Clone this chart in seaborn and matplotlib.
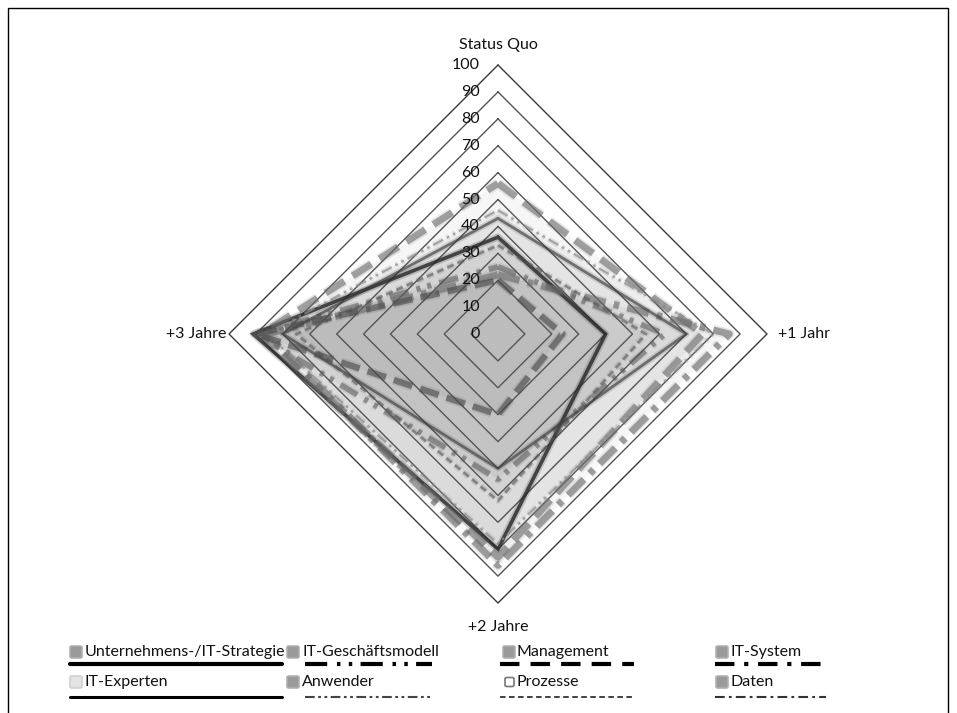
import numpy as np
import pandas as pd
import matplotlib
matplotlib.use("Agg")
import matplotlib.pyplot as plt
import seaborn as sns
from matplotlib.lines import Line2D
from matplotlib.patches import FancyBboxPatch

# ---------------- data ----------------
categories = ["Status Quo", "+1 Jahr", "+2 Jahre", "+3 Jahre"]
series_names = ["Unternehmens-/IT-Strategie", "IT-Geschäftsmodell", "Management", "IT-System",
                "IT-Experten", "Anwender", "Prozesse", "Daten"]
unternehmens_it_strategie = [36, 40, 80, 91]
it_geschaeftsmodell = [25, 62, 54, 90]
management = [56, 76, 83, 88]
it_system = [22, 86, 86, 86]
it_experten = [43, 70, 50, 80]
anwender = [46, 80, 78, 86]
prozesse = [33, 55, 62, 75]
daten = [20, 24, 30, 90]
tick_values = [0, 10, 20, 30, 40, 50, 60, 70, 80, 90, 100]

series_values = [unternehmens_it_strategie, it_geschaeftsmodell, management, it_system,
                 it_experten, anwender, prozesse, daten]

# ---------------- style ----------------
sns.set_theme(style="white")
plt.rcParams["font.family"] = ["Lato", "DejaVu Sans"]
plt.rcParams["lines.scale_dashes"] = False

W, H = 957, 713
fig = plt.figure(figsize=(W / 100, H / 100), dpi=100)
ax = fig.add_axes([0, 0, 1, 1])
cx, cy, R = 498, 334, 269
s = 100 / R
ax.set_xlim(-cx * s, (W - cx) * s)
ax.set_ylim(-(H - cy) * s, cy * s)
ax.axis("off")

angles = np.deg2rad([90, 0, -90, 180])

def fx(px):
    return px / W

def fy(py):
    return 1 - py / H

# chart line styles (colour, width, alpha, dash)
chart_styles = [
    ("#262626", 2.6, 0.80, "-"),
    ("#5a5a5a", 4.0, 0.55, (0, (14, 6, 3, 5, 3, 6))),
    ("#6e6e6e", 5.0, 0.60, (0, (16, 7))),
    ("#6a6a6a", 5.0, 0.60, (0, (16, 6, 4, 6))),
    ("#3c3c3c", 2.0, 0.65, "-"),
    ("#8c8c8c", 1.6, 0.70, (0, (8, 3, 2, 3, 2, 3))),
    ("#5a5a5a", 2.0, 0.60, (0, (5, 3))),
    ("#4a4a4a", 4.5, 0.60, (0, (14, 6))),
]

# grid rings
for v in tick_values[1:]:
    gx = np.append(v * np.cos(angles), v * np.cos(angles[0]))
    gy = np.append(v * np.sin(angles), v * np.sin(angles[0]))
    ax.plot(gx, gy, color="#3a3a3a" if v == 100 else "#555555", lw=1.0, zorder=2)

# series
for name, vals, (col, lw, al, ls) in zip(series_names, series_values, chart_styles):
    vals = np.array(vals, dtype=float)
    x = vals * np.cos(angles)
    y = vals * np.sin(angles)
    ax.fill(x, y, color="black", alpha=0.036, lw=0, zorder=1)
    df = pd.DataFrame({"x": np.append(x, x[0]), "y": np.append(y, y[0]),
                       "order": range(len(x) + 1)})
    sns.lineplot(data=df, x="x", y="y", sort=False, estimator=None, ax=ax,
                 color=col, lw=lw + 2.5, alpha=al * 0.25, linestyle=ls, legend=False,
                 zorder=3, solid_joinstyle="round")
    sns.lineplot(data=df, x="x", y="y", sort=False, estimator=None, ax=ax,
                 color=col, lw=lw, alpha=al, linestyle=ls, legend=False, zorder=4,
                 solid_joinstyle="miter")
ax.set_xlabel("")
ax.set_ylabel("")
ax.set_xlim(-cx * s, (W - cx) * s)
ax.set_ylim(-(H - cy) * s, cy * s)

# value tick labels
for v in tick_values:
    ax.text((480 - cx) * s, v, str(v), ha="right", va="center", fontsize=11.5,
            color="#111111", zorder=6)

# category labels
ax.text(0, (cy - 45) * s, categories[0], ha="center", va="center", fontsize=11.5, color="#111111")
ax.text((778 - cx) * s, 0, categories[1], ha="left", va="center", fontsize=11.5, color="#111111")
ax.text(0, -(627 - cy) * s, categories[2], ha="center", va="center", fontsize=11.5, color="#111111")
ax.text((226 - cx) * s, 0, categories[3], ha="right", va="center", fontsize=11.5, color="#111111")

# ---------------- legend (manual layout) ----------------
legend_styles = [
    ("black", 3.0, "-"),
    ("black", 3.0, (0, (16, 7, 2.5, 6, 2.5, 6))),
    ("black", 3.0, (0, (14, 8))),
    ("black", 3.0, (0, (14, 7, 3, 7))),
    ("black", 2.2, "-"),
    ("#444444", 1.5, (0, (7, 2.5, 2, 2.5, 2, 2.5))),
    ("#333333", 1.3, (0, (4, 2.5))),
    ("#333333", 1.5, (0, (7, 3, 2, 3))),
]
icon_faces = ["#9a9a9a", "#9a9a9a", "#9a9a9a", "#9a9a9a", "#e4e4e4", "#9a9a9a", "white", "#9a9a9a"]
icon_edges = ["#b0b0b0", "#b0b0b0", "#b0b0b0", "#b0b0b0", "#d0d0d0", "#b0b0b0", "#777777", "#b0b0b0"]
col_icon_x = [70, 287, 503, 716]
col_text_x = [85, 302, 517, 730]
col_line = [(70, 282), (305, 432), (500, 634), (715, 826)]
row_text_y = [652, 682]
row_line_y = [664, 697]

for i, name in enumerate(series_names):
    r, c = divmod(i, 4)
    ty = row_text_y[r]
    isz = 12 if i != 6 else 9
    ix = col_icon_x[c] + (0 if i != 6 else 2)
    fig.patches.append(FancyBboxPatch((fx(ix), fy(ty + isz / 2)), isz / W, isz / H,
                                      boxstyle="round,pad=0,rounding_size=0.002",
                                      transform=fig.transFigure, facecolor=icon_faces[i],
                                      edgecolor=icon_edges[i], lw=1.2))
    fig.text(fx(col_text_x[c]), fy(ty), name, ha="left", va="center", fontsize=11.5,
             color="#111111")
    col, lw, ls = legend_styles[i]
    x0, x1 = col_line[c]
    fig.add_artist(Line2D([fx(x0), fx(x1)], [fy(row_line_y[r])] * 2, color=col, lw=lw,
                          linestyle=ls, transform=fig.transFigure))

# outer frame
fig.add_artist(Line2D([fx(8), fx(8), fx(948), fx(948)], [0, fy(8), fy(8), 0],
                      color="black", lw=1.0, transform=fig.transFigure))

fig.savefig("out.png", dpi=100, facecolor="white")
